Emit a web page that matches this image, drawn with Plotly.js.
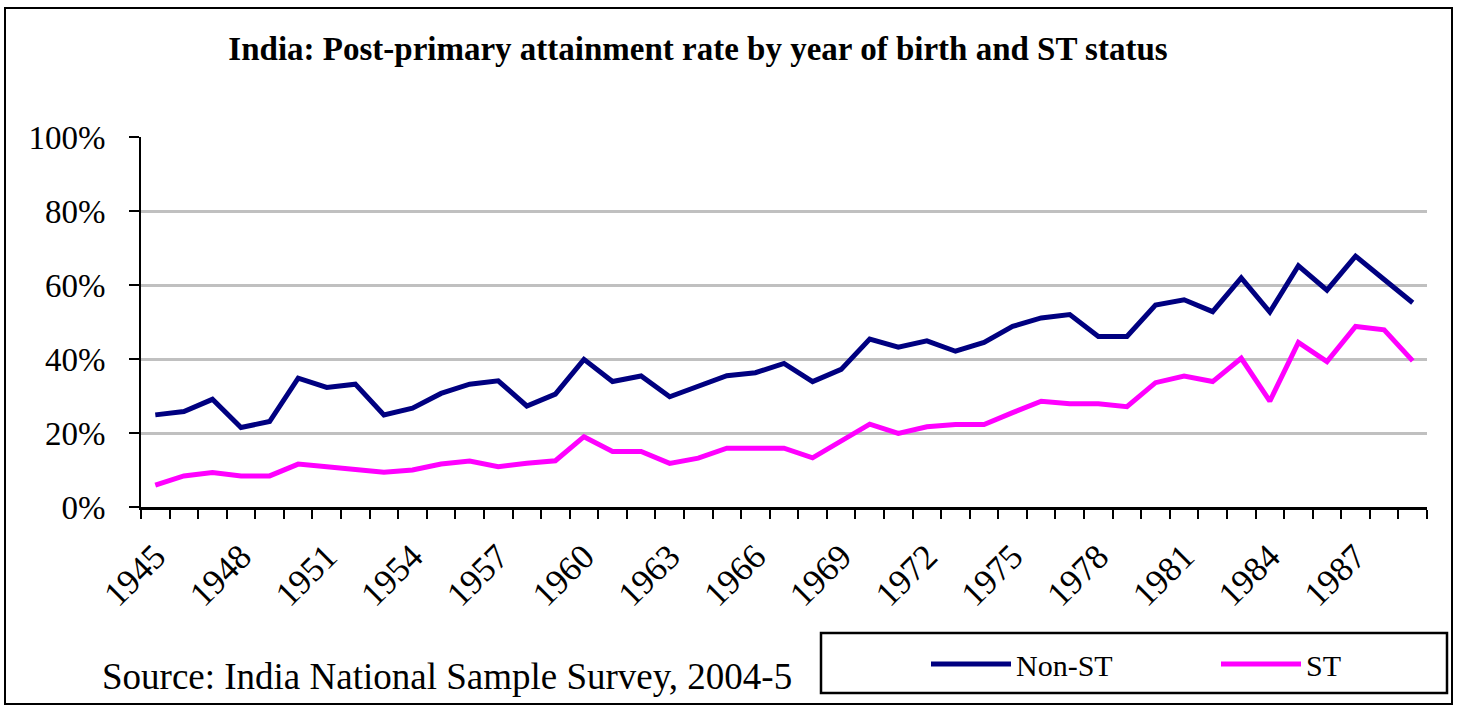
<!DOCTYPE html>
<html>
<head>
<meta charset="utf-8">
<script src="https://cdn.plot.ly/plotly-3.0.1.min.js"></script>
<style>html,body{margin:0;padding:0;background:#fff;}#chart{width:1458px;height:707px;}</style>
</head>
<body>
<div id="chart"></div>
<script>
var years = [1945,1946,1947,1948,1949,1950,1951,1952,1953,1954,1955,1956,1957,1958,1959,1960,1961,1962,1963,1964,1965,1966,1967,1968,1969,1970,1971,1972,1973,1974,1975,1976,1977,1978,1979,1980,1981,1982,1983,1984,1985,1986,1987,1988,1989];
var nonST = [24.9,25.8,29.1,21.5,23.1,34.8,32.3,33.2,24.9,26.7,30.7,33.2,34.1,27.3,30.5,39.9,33.9,35.4,29.8,32.5,35.5,36.3,38.8,33.9,37.2,45.4,43.2,44.9,42.1,44.5,48.8,51.1,52.0,46.1,46.1,54.6,56.0,52.8,61.9,52.7,65.2,58.6,67.8,61.5,55.2];
var st = [5.9,8.4,9.3,8.4,8.4,11.6,10.9,10.2,9.4,10.0,11.6,12.4,10.9,11.8,12.5,19.0,15.0,15.0,11.8,13.2,15.9,15.9,15.9,13.3,17.7,22.4,19.9,21.7,22.3,22.3,25.5,28.6,27.9,27.9,27.1,33.6,35.4,33.9,40.2,28.6,44.5,39.3,48.8,47.9,39.5];
var tickYears = [1945,1948,1951,1954,1957,1960,1963,1966,1969,1972,1975,1978,1981,1984,1987];
var tickLabels = ["1945","1948","1951","1954","1957","1960","1963","1966","1969","1972","1975","1978","1981","1984","1987"];

var serif = "Liberation Serif, Times New Roman, serif";
var W = 1458, H = 707, L = 141, R = 31, T = 137, B = 200;
var pw = W - L - R, ph = H - T - B;
function px(x){ return (x - L) / pw; }
function py(y){ return (H - B - y) / ph; }

var traces = [
  {x: years, y: nonST, type: 'scatter', mode: 'lines', name: 'Non-ST',
   line: {color: '#000080', width: 5}},
  {x: years, y: st, type: 'scatter', mode: 'lines', name: 'ST',
   line: {color: '#ff00ff', width: 5}}
];

var layout = {
  width: W, height: H,
  margin: {l: L, r: R, t: T, b: B, pad: 0, autoexpand: false},
  paper_bgcolor: '#fff', plot_bgcolor: '#fff',
  font: {family: serif, color: '#000'},
  title: {text: 'India: Post-primary attainment rate by year of birth and ST status',
          font: {family: serif, size: 33, color: '#000', weight: 'bold'},
          x: 698 / W, xanchor: 'center', xref: 'container',
          y: 1 - 48 / H, yanchor: 'middle', yref: 'container'},
  xaxis: {
    range: [1944.5, 1989.5], fixedrange: true, automargin: false,
    tickmode: 'array', tickvals: tickYears, ticktext: tickLabels,
    tickangle: -45, ticks: '', ticklen: 0, ticklabelstandoff: 12,
    tickfont: {family: serif, size: 35, color: '#000'},
    showgrid: false, zeroline: false,
    showline: true, linecolor: '#000', linewidth: 3,
    minor: {tick0: 1944.5, dtick: 1, ticks: 'outside', ticklen: 9, tickwidth: 2, tickcolor: '#000', showgrid: false}
  },
  yaxis: {
    range: [0, 100], dtick: 20, ticksuffix: '%', fixedrange: true, automargin: false,
    ticks: 'outside', ticklen: 10, tickwidth: 2, tickcolor: '#000',
    ticklabelstandoff: 17,
    tickfont: {family: serif, size: 33, color: '#000'},
    showgrid: true, gridcolor: '#c0c0c0', gridwidth: 3,
    zeroline: false, showline: true, linecolor: '#000', linewidth: 2
  },
  showlegend: true,
  legend: {orientation: 'h', x: px(926), xanchor: 'left', y: py(664), yanchor: 'middle',
           bgcolor: 'rgba(0,0,0,0)', borderwidth: 0,
           font: {family: serif, size: 30, color: '#000'},
           itemwidth: 80, entrywidth: 195, entrywidthmode: 'pixels', tracegroupgap: 0},
  shapes: [
    {type: 'rect', xref: 'paper', yref: 'paper', x0: px(5), x1: px(1452), y0: py(704), y1: py(8),
     line: {color: '#000', width: 2}, fillcolor: 'rgba(0,0,0,0)', layer: 'below'},
    {type: 'rect', xref: 'paper', yref: 'paper', x0: px(821), x1: px(1447), y0: py(693), y1: py(633),
     line: {color: '#000', width: 2.5}, fillcolor: 'rgba(0,0,0,0)'}
  ],
  annotations: [
    {text: 'Source: India National Sample Survey, 2004-5', xref: 'paper', yref: 'paper',
     x: px(100), xanchor: 'left', y: py(676), yanchor: 'middle', showarrow: false,
     font: {family: serif, size: 37, color: '#000'}}
  ]
};

Plotly.newPlot('chart', traces, layout, {displayModeBar: false, staticPlot: true});
</script>
</body>
</html>
